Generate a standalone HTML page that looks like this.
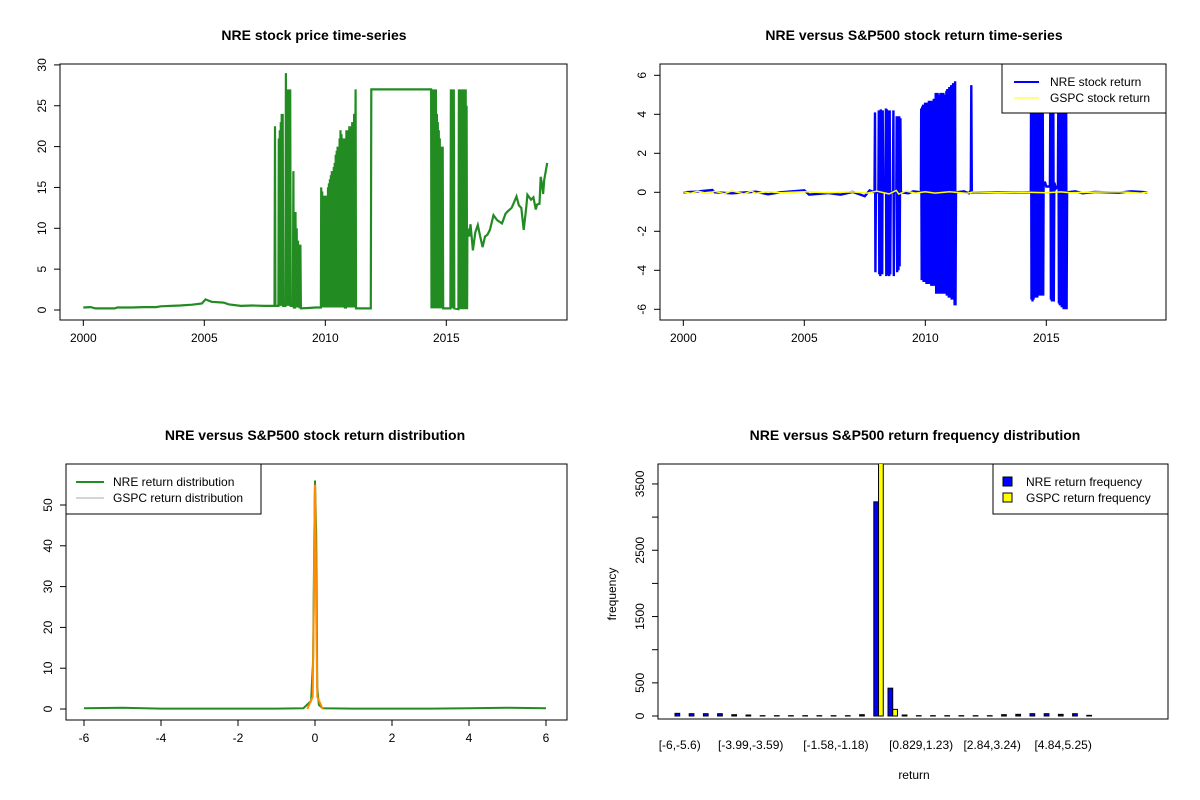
<!DOCTYPE html>
<html><head><meta charset="utf-8"><style>
body{margin:0;background:#fff;}
svg{display:block;font-family:"Liberation Sans",Arial,sans-serif;}
</style></head><body>
<svg id="c" width="1200" height="800" xmlns="http://www.w3.org/2000/svg"></svg>
<script>
// ---- data ----
const priceSeries=[[2000,0.3],[2000.3,0.35],[2000.5,0.2],[2001,0.2],[2001.3,0.2],[2001.4,0.3],[2002,0.3],[2002.5,0.35],[2003,0.35],[2003.2,0.45],[2004,0.55],[2004.5,0.65],[2004.9,0.8],[2005.05,1.3],[2005.3,1.0],[2005.8,0.9],[2006,0.7],[2006.5,0.5],[2007,0.55],[2007.5,0.5],[2007.9,0.5],
[2007.92,22.5],[2007.94,0.5],[2008.06,0.5],[2008.08,21],[2008.1,0.5],[2008.12,22],[2008.14,0.5],[2008.16,23],[2008.18,0.5],[2008.2,24],[2008.22,0.5],[2008.24,24],[2008.26,0.5],[2008.35,0.5],[2008.37,29],[2008.39,0.5],[2008.41,27],[2008.43,0.5],[2008.45,27],[2008.47,0.5],[2008.49,27],[2008.51,0.5],[2008.55,27],[2008.57,0.5],[2008.66,0.5],[2008.68,17],[2008.7,0.3],[2008.75,0.3],[2008.77,12],[2008.79,0.3],[2008.82,10],[2008.84,0.3],[2008.87,8.5],[2008.89,0.3],[2008.92,8],[2008.94,0.2],[2008.97,8],[2008.99,0.2],[2009.3,0.25],[2009.6,0.3],[2009.82,0.3],
[2009.83,15],[2009.85,0.3],[2009.87,14.5],[2009.89,0.3],[2009.91,14],[2009.93,0.3],[2009.95,13.5],[2009.97,0.3],[2009.99,14],[2010.01,0.3],[2010.03,14],[2010.05,0.3],[2010.07,14],[2010.09,0.3],[2010.11,15],[2010.13,0.3],[2010.15,15.5],[2010.17,0.3],[2010.19,16],[2010.21,0.3],[2010.23,16.5],[2010.25,0.3],[2010.27,17],[2010.29,0.3],[2010.31,17],[2010.33,0.3],[2010.35,17.5],[2010.37,0.3],[2010.39,18],[2010.41,0.3],[2010.43,19],[2010.45,0.3],[2010.47,19.5],[2010.49,0.3],[2010.51,20],[2010.53,0.3],[2010.55,20],[2010.57,0.3],[2010.59,21],[2010.61,0.3],[2010.63,22],[2010.65,0.3],[2010.67,21.5],[2010.69,0.3],[2010.71,21],[2010.73,0.3],[2010.75,21],[2010.77,0.3],[2010.79,21],[2010.81,0.3],[2010.85,0.3],[2010.87,22],[2010.89,0.3],[2010.91,22],[2010.93,0.3],[2010.95,22],[2010.97,0.3],[2010.99,22.5],[2011.01,0.3],[2011.03,22],[2011.05,0.3],[2011.07,22.5],[2011.09,0.3],[2011.11,23],[2011.13,0.3],[2011.15,23],[2011.17,0.3],[2011.19,24],[2011.21,0.3],[2011.25,27],[2011.27,0.2],[2011.88,0.2],
[2011.9,27],[2014.37,27],[2014.39,0.2],[2014.41,27],[2014.43,0.2],[2014.45,27],[2014.47,0.2],[2014.49,27],[2014.51,0.2],[2014.53,27],[2014.55,0.2],[2014.57,27],[2014.59,0.2],[2014.61,24],[2014.63,0.2],[2014.65,23],[2014.67,0.2],[2014.69,22],[2014.71,0.2],[2014.73,21],[2014.75,0.2],[2014.77,20],[2014.79,0.2],[2014.81,20],[2014.83,0.2],[2014.85,20],[2014.87,0.2],[2015.17,0.2],[2015.19,27],[2015.21,0.2],[2015.23,27],[2015.25,0.2],[2015.27,27],[2015.29,0.2],[2015.31,27],[2015.33,0.2],[2015.5,0.1],[2015.52,27],[2015.54,0.1],[2015.56,27],[2015.58,0.1],[2015.6,27],[2015.62,0.1],[2015.64,27],[2015.66,0.1],[2015.68,27],[2015.7,0.1],[2015.72,27],[2015.74,0.1],[2015.76,27],[2015.78,0.1],[2015.8,27],[2015.82,0.1],[2015.84,25],[2015.86,0.1],
[2015.87,10],[2015.95,9],[2016.0,10.5],[2016.1,7.3],[2016.2,9.5],[2016.3,10.4],[2016.4,9],[2016.5,7.7],[2016.6,9],[2016.7,9.2],[2016.8,9.8],[2016.95,11.6],[2017.1,11],[2017.3,10.6],[2017.45,11.8],[2017.55,12.1],[2017.7,12.5],[2017.8,13.2],[2017.9,13.9],[2018.0,12.8],[2018.1,12.5],[2018.2,9.8],[2018.3,12.5],[2018.35,14.1],[2018.5,13.5],[2018.6,13.8],[2018.7,12.3],[2018.75,12.9],[2018.85,13],[2018.9,16.3],[2018.95,15.5],[2019.0,14.2],[2019.05,16],[2019.1,16.8],[2019.17,18]];
const nreReturns=[[2000,0],[2000.5,0.03],[2001.2,0.12],[2001.3,0],[2002,-0.05],[2003,0.03],[2003.5,-0.1],[2004,0],[2005,0.1],[2005.2,-0.12],[2006,-0.04],[2006.5,-0.12],[2007,0.02],[2007.5,-0.2],[2007.7,0.1],[2007.9,0],
[2007.92,4.1],[2007.94,-4.1],[2007.96,0],[2008.06,0],[2008.08,4.2],[2008.1,-4.2],[2008.12,4.2],[2008.14,-4.3],[2008.16,4.25],[2008.18,-4.2],[2008.2,4.2],[2008.22,-4.2],[2008.24,4.2],[2008.26,0],[2008.35,0],[2008.37,4.3],[2008.39,-4.3],[2008.41,4.25],[2008.43,-4.2],[2008.45,4.2],[2008.47,-4.25],[2008.49,4.2],[2008.51,-4.3],[2008.53,4.2],[2008.55,-4.2],[2008.57,0],[2008.66,0],[2008.68,4.2],[2008.7,-4.3],[2008.72,0],[2008.8,0],[2008.82,3.9],[2008.84,-4.1],[2008.87,3.9],[2008.89,-4.0],[2008.92,3.9],[2008.94,-3.8],[2008.97,3.8],[2008.99,0],[2009.3,-0.05],[2009.5,0.05],[2009.82,0],
[2009.83,4.3],[2009.85,-4.5],[2009.87,4.4],[2009.89,-4.5],[2009.91,4.5],[2009.93,-4.6],[2009.95,4.5],[2009.97,-4.6],[2009.99,4.6],[2010.01,-4.6],[2010.03,4.6],[2010.05,-4.7],[2010.07,4.6],[2010.09,-4.7],[2010.11,4.6],[2010.13,-4.7],[2010.15,4.7],[2010.17,-4.7],[2010.19,4.6],[2010.21,-4.7],[2010.23,4.7],[2010.25,-4.8],[2010.27,4.6],[2010.29,-4.8],[2010.31,4.7],[2010.33,-4.8],[2010.35,4.8],[2010.37,-4.8],[2010.39,4.7],[2010.41,-4.8],[2010.43,5.1],[2010.45,-5.2],[2010.47,5.1],[2010.49,-5.2],[2010.51,5.1],[2010.53,-5.1],[2010.55,5.0],[2010.57,-5.2],[2010.59,5.0],[2010.61,-5.2],[2010.63,5.1],[2010.65,-5.1],[2010.67,5.1],[2010.69,-5.2],[2010.71,5.1],[2010.73,-5.2],[2010.75,5.1],[2010.77,-5.2],[2010.79,5.0],[2010.81,-5.2],[2010.83,0],[2010.85,0],[2010.87,5.2],[2010.89,-5.3],[2010.91,5.3],[2010.93,-5.3],[2010.95,5.3],[2010.97,-5.4],[2010.99,5.4],[2011.01,-5.4],[2011.03,5.4],[2011.05,-5.4],[2011.07,5.5],[2011.09,-5.5],[2011.11,5.5],[2011.13,-5.5],[2011.15,5.6],[2011.17,-5.5],[2011.19,5.6],[2011.21,-5.8],[2011.23,5.7],[2011.25,-5.8],[2011.27,0],[2011.6,0.05],[2011.8,-0.05],[2011.88,0.1],
[2011.9,5.5],[2011.92,0],[2013,0],[2014.36,0],
[2014.37,5.5],[2014.39,-5.5],[2014.41,5.6],[2014.43,-5.6],[2014.45,5.6],[2014.47,-5.5],[2014.49,5.5],[2014.51,-5.4],[2014.53,5.5],[2014.55,-5.4],[2014.57,5.5],[2014.59,-5.4],[2014.61,5.5],[2014.63,-5.4],[2014.65,5.5],[2014.67,-5.3],[2014.69,5.5],[2014.71,-5.3],[2014.73,5.4],[2014.75,-5.3],[2014.77,5.4],[2014.79,-5.3],[2014.81,5.4],[2014.83,-5.3],[2014.85,5.4],[2014.87,-5.3],[2014.89,0.5],[2014.95,0.5],[2015.0,0.3],[2015.15,0.3],[2015.17,5.5],[2015.19,-5.5],[2015.21,5.5],[2015.23,-5.6],[2015.25,5.5],[2015.27,-5.6],[2015.29,5.5],[2015.31,-5.6],[2015.33,0.5],[2015.4,0.2],[2015.48,0.3],[2015.5,5.6],[2015.52,-5.7],[2015.54,5.7],[2015.56,-5.8],[2015.58,5.8],[2015.6,-5.8],[2015.62,5.8],[2015.64,-5.9],[2015.66,5.9],[2015.68,-5.9],[2015.7,5.9],[2015.72,-6.0],[2015.74,5.9],[2015.76,-6.0],[2015.78,5.9],[2015.8,-6.0],[2015.82,5.9],[2015.84,-6.0],[2015.86,0],[2016.2,0.05],[2016.5,-0.05],[2017,0.02],[2018,-0.02],[2018.5,0.05],[2019.17,0]];
const gspcReturns=[[2000,0.03],[2000.3,-0.05],[2000.6,0.06],[2001,-0.06],[2001.3,0.05],[2001.7,-0.07],[2002,0.07],[2002.5,-0.08],[2002.8,0.06],[2003,-0.05],[2003.5,0.03],[2004,-0.02],[2005,0.03],[2006,-0.02],[2007,0.02],[2007.6,-0.04],[2008,0.06],[2008.5,-0.08],[2008.8,0.1],[2008.9,-0.09],[2009.2,0.06],[2009.6,-0.04],[2010,0.03],[2010.4,-0.04],[2011,0.03],[2011.7,-0.05],[2012,0.02],[2013,-0.01],[2014,0.01],[2015,-0.02],[2015.6,0.02],[2016,-0.02],[2017,0.01],[2018,0.03],[2018.9,-0.04],[2019.17,0.01]];
const nreDensityX=[-6,-5,-4,-3,-2,-1,-0.3,-0.1,-0.05,-0.02,0,0.03,0.06,0.1,0.2,1,2,3,4,5,6];
const nreDensityY=[0.2,0.3,0.1,0.1,0.1,0.1,0.2,2,12,40,56,43,5,1,0.2,0.1,0.1,0.1,0.2,0.3,0.2];
const gspcDensityX=[-0.2,-0.06,-0.03,-0.01,0,0.01,0.03,0.06,0.2];
const gspcDensityY=[0,3,25,50,55,50,25,3,0];
const binLabels=["[-6,-5.6)","[-3.99,-3.59)","[-1.58,-1.18)","[0.829,1.23)","[2.84,3.24)","[4.84,5.25)"];
const binLabelIdx=[0,5,11,17,22,27];
const nreFreq=[40,35,35,35,20,15,5,5,5,5,5,5,5,20,3230,420,15,5,5,5,5,5,5,20,25,35,35,25,35,10];
const gspcFreq=[0,0,0,0,0,0,0,0,0,0,0,0,0,0,3900,100,0,0,0,0,0,0,0,0,0,0,0,0,0,0];

const S="http://www.w3.org/2000/svg", svg=document.getElementById('c');
function el(t,a,p){const e=document.createElementNS(S,t);for(const k in a)e.setAttribute(k,a[k]);(p||svg).appendChild(e);return e;}
function txt(x,y,s,o){o=o||{};const e=el('text',{x:x,y:y,'font-size':o.fs||12,'text-anchor':o.a||'middle','font-weight':o.b?'bold':'normal',fill:'#000'});if(o.r)e.setAttribute('transform','rotate(-90 '+x+' '+y+')');e.textContent=s;return e;}
function frame(x0,y0,x1,y1,name){const r=el('rect',{x:x0,y:y0,width:x1-x0,height:y1-y0,fill:'none',stroke:'#000'});}
function yax(xl,ticks,fy,labels){const g=el('g',{});
 el('line',{x1:xl,x2:xl,y1:fy(ticks[0]),y2:fy(ticks[ticks.length-1]),stroke:'#000'},g);
 ticks.forEach((t,i)=>{const y=fy(t);el('line',{x1:xl,x2:xl-6,y1:y,y2:y,stroke:'#000'},g);if(!labels||labels[i])g.appendChild(txt(xl-14,y,labels?labels[i]:String(t),{r:1}));});}
function xax(yb,ticks,fx){const g=el('g',{});
 el('line',{x1:fx(ticks[0]),x2:fx(ticks[ticks.length-1]),y1:yb,y2:yb,stroke:'#000'},g);
 ticks.forEach(t=>{const x=fx(t);el('line',{x1:x,x2:x,y1:yb,y2:yb+6,stroke:'#000'},g);g.appendChild(txt(x,yb+22,String(t)));});}
function line(pts,fx,fy,col,w,name,par){const p=el('polyline',{points:pts.map(q=>fx(q[0]).toFixed(1)+','+fy(q[1]).toFixed(1)).join(' '),fill:'none',stroke:col,'stroke-width':w,'stroke-linejoin':'miter'},par);}

// ---- Panel 1: price ----
{const fx=t=>83.3+(t-2000)*24.2, fy=v=>310-v*8.17;
 frame(60,64,567,320,'price-plot-frame');
 const t=txt(314,40,'NRE stock price time-series',{fs:14,b:1});
 yax(60,[0,5,10,15,20,25,30],fy);xax(320,[2000,2005,2010,2015],fx);
 const cp=el('clipPath',{id:'cp1'});el('rect',{x:60,y:64,width:507,height:256},cp);
 const g=el('g',{'clip-path':'url(#cp1)'});
 line(priceSeries,fx,fy,'#228B22',2.2,'nre-price-line',g);}

// ---- Panel 2: returns ----
{const fx=t=>683.3+(t-2000)*24.2, fy=v=>192.3-v*19.5;
 frame(660,64,1166,320,'returns-plot-frame');
 const t=txt(914,40,'NRE versus S&P500 stock return time-series',{fs:14,b:1});
 yax(660,[-6,-4,-2,0,2,4,6],fy);xax(320,[2000,2005,2010,2015],fx);
 line(nreReturns,fx,fy,'#0000FF',2.4,'nre-return-line');
 line(gspcReturns,fx,fy,'#FFFF00',1.5,'gspc-return-line');
 const lg=el('g',{});
 el('rect',{x:1002,y:64,width:164,height:49,fill:'#fff',stroke:'#000'},lg);
 el('line',{x1:1014,x2:1039,y1:82,y2:82,stroke:'#0000FF','stroke-width':2},lg);
 el('line',{x1:1014,x2:1039,y1:98,y2:98,stroke:'#FFFF00','stroke-width':1},lg);
 lg.appendChild(txt(1050,86,'NRE stock return',{a:'start'}));lg.appendChild(txt(1050,102,'GSPC stock return',{a:'start'}));}

// ---- Panel 3: density ----
{const fx=x=>315+x*38.5, fy=v=>709-v*4.08;
 frame(66,464,567,720,'density-plot-frame');
 const t=txt(315,440,'NRE versus S&P500 stock return distribution',{fs:14,b:1});
 yax(66,[0,10,20,30,40,50],fy);xax(720,[-6,-4,-2,0,2,4,6],fx);
 line(nreDensityX.map((x,i)=>[x,nreDensityY[i]]),fx,fy,'#228B22',2,'nre-density-line');
 line(gspcDensityX.map((x,i)=>[x,gspcDensityY[i]]),fx,fy,'#FF8C00',2,'gspc-density-line');
 const lg=el('g',{});
 el('rect',{x:66,y:464,width:195,height:50,fill:'#fff',stroke:'#000'},lg);
 el('line',{x1:76,x2:104,y1:482,y2:482,stroke:'#228B22','stroke-width':2},lg);
 el('line',{x1:76,x2:104,y1:498,y2:498,stroke:'#aaa','stroke-width':1},lg);
 lg.appendChild(txt(113,486,'NRE return distribution',{a:'start'}));lg.appendChild(txt(113,502,'GSPC return distribution',{a:'start'}));}

// ---- Panel 4: frequency ----
{const fy=v=>716-v*0.0663, bw=4.73, gw=14.2, x0=675;
 frame(658,464,1168,719,'frequency-plot-frame');
 const t=txt(915,440,'NRE versus S&P500 return frequency distribution',{fs:14,b:1});
 yax(658,[0,500,1000,1500,2000,2500,3000,3500],fy,['0','500','','1500','','2500','','3500']);
 const cp=el('clipPath',{id:'cp4'});el('rect',{x:658,y:464,width:510,height:255},cp);
 const g=el('g',{'clip-path':'url(#cp4)'});
 nreFreq.forEach((v,i)=>{const x=x0+i*gw;const r=el('rect',{x:x,y:fy(v),width:bw,height:716-fy(v),fill:'#0000FF',stroke:'#000','stroke-width':1},g);});
 gspcFreq.forEach((v,i)=>{const x=x0+i*gw+bw;const r=el('rect',{x:x,y:fy(v),width:bw,height:716-fy(v),fill:'#FFFF00',stroke:'#000','stroke-width':1},g);});
 binLabels.forEach((s,k)=>{const i=binLabelIdx[k];const x=x0+i*gw+bw;txt(x,749,s);});
 txt(914,779,'return');txt(616,594,'frequency',{r:1});
 const lg=el('g',{});
 el('rect',{x:993,y:464,width:175,height:50,fill:'#fff',stroke:'#000'},lg);
 el('rect',{x:1003,y:477,width:9,height:9,fill:'#0000FF',stroke:'#000'},lg);
 el('rect',{x:1003,y:493,width:9,height:9,fill:'#FFFF00',stroke:'#000'},lg);
 lg.appendChild(txt(1026,486,'NRE return frequency',{a:'start'}));lg.appendChild(txt(1026,502,'GSPC return frequency',{a:'start'}));}
</script>
</body></html>
